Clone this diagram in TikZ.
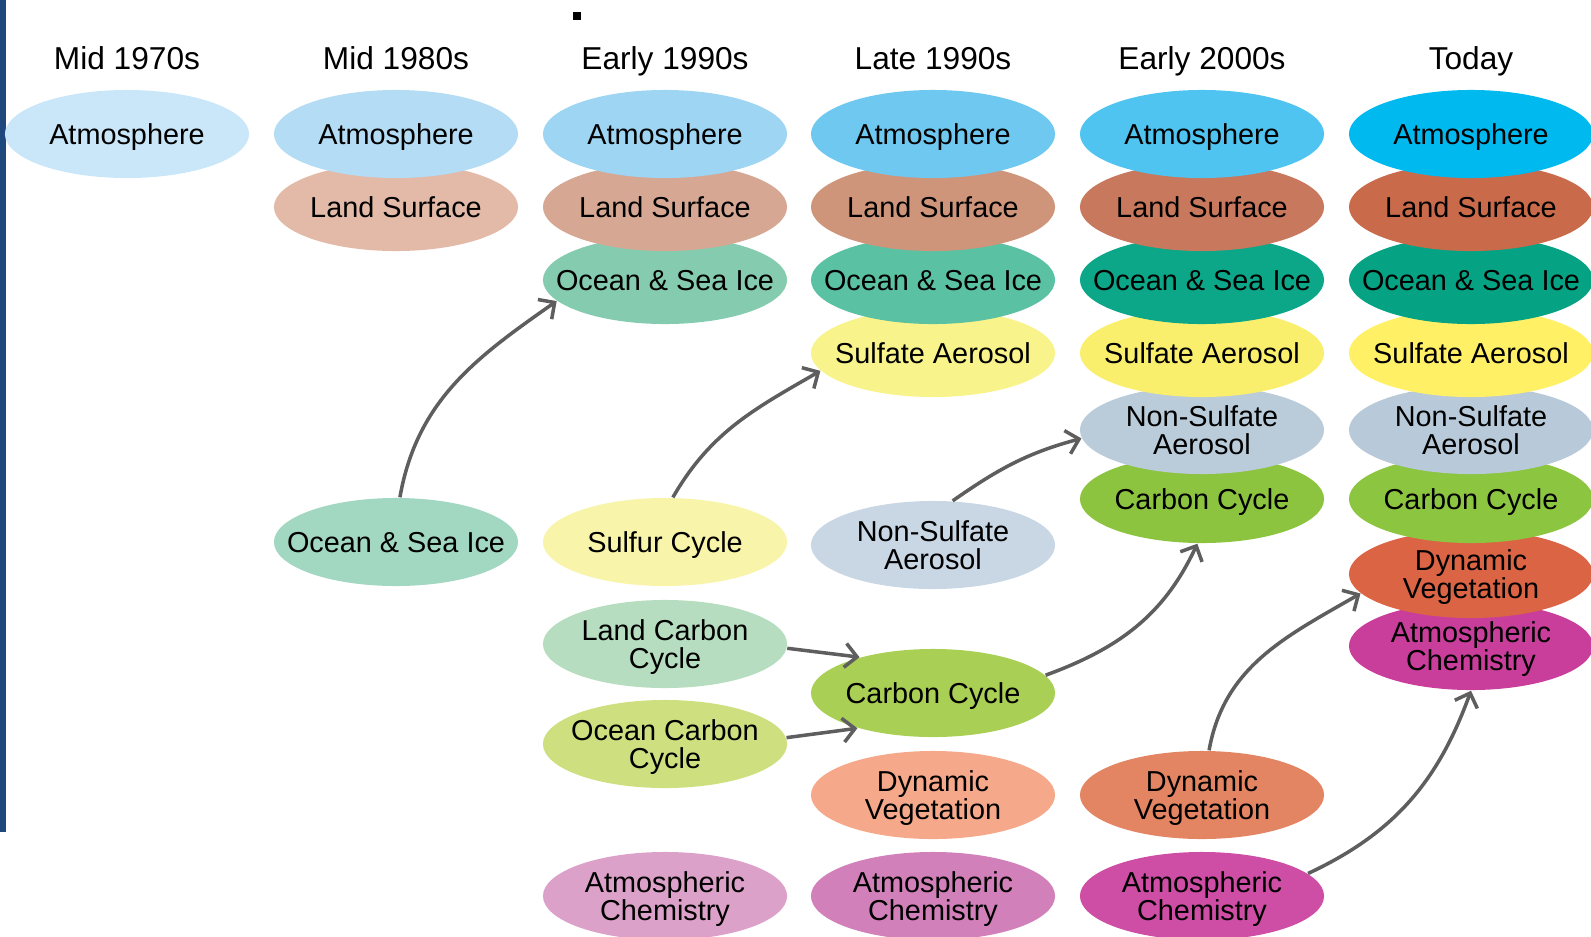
\documentclass[tikz,border=0pt]{standalone}
\usepackage{fontspec}
\setmainfont{Liberation Sans}
\usetikzlibrary{shapes.geometric,arrows.meta}
\newcommand{\nodepth}[1]{\raisebox{0pt}[\height][0pt]{#1}}
\definecolor{barblue}{HTML}{1F497D}
\definecolor{linkgray}{HTML}{5E5E5E}
% mid 1970s / mid 1980s
\definecolor{atmA}{HTML}{C9E7F8}
\definecolor{atmB}{HTML}{B4DCF4}
\definecolor{landB}{HTML}{E3BAA7}
\definecolor{oceanB}{HTML}{A2D7C1}
% early 1990s
\definecolor{atmC}{HTML}{9DD5F3}
\definecolor{landC}{HTML}{D6A894}
\definecolor{oceanC}{HTML}{85CBAF}
\definecolor{sulfurC}{HTML}{F8F4A9}
\definecolor{lcarbC}{HTML}{B6DDBF}
\definecolor{ocarbC}{HTML}{CEDF7F}
\definecolor{chemC}{HTML}{DCA1C9}
% late 1990s
\definecolor{atmD}{HTML}{6FC8EF}
\definecolor{landD}{HTML}{CF957B}
\definecolor{oceanD}{HTML}{5BC1A3}
\definecolor{sulfD}{HTML}{F8F38B}
\definecolor{nonsD}{HTML}{C9D6E4}
\definecolor{carbD}{HTML}{A9CF54}
\definecolor{vegD}{HTML}{F5A98A}
\definecolor{chemD}{HTML}{D180B9}
% early 2000s
\definecolor{atmE}{HTML}{4FC4F0}
\definecolor{landE}{HTML}{C8785D}
\definecolor{oceanE}{HTML}{0CA788}
\definecolor{sulfE}{HTML}{FAEF6C}
\definecolor{nonsE}{HTML}{BACBDA}
\definecolor{carbE}{HTML}{8CC43F}
\definecolor{vegE}{HTML}{E38563}
\definecolor{chemE}{HTML}{CE4DA5}
% today
\definecolor{atmF}{HTML}{00B9EF}
\definecolor{landF}{HTML}{C96A4B}
\definecolor{oceanF}{HTML}{05A384}
\definecolor{sulfF}{HTML}{FFF066}
\definecolor{nonsF}{HTML}{B8CAD9}
\definecolor{carbF}{HTML}{8CC540}
\definecolor{vegF}{HTML}{DA6444}
\definecolor{chemF}{HTML}{C93E9B}
\begin{document}
\begin{tikzpicture}[x=0.01cm,y=-0.01cm,
  comp/.style={ellipse, minimum width=2.44cm, minimum height=0.88cm,
    inner xsep=-0.25cm, inner ysep=0pt, font=\fontsize{8.2}{7.8}\selectfont},
  one/.style={comp, text depth=0pt},
  two/.style={comp, align=center},
  era/.style={font=\fontsize{9}{10}\selectfont, text depth=0pt},
  link/.style={draw=linkgray, line width=1pt, -{Straight Barb[length=1.2mm,width=2.4mm]}}]
\useasboundingbox (0,0) rectangle (1591,936);
\fill[barblue] (0,0) rectangle (6,832);
\fill (573,12) rectangle (581,20);
% Mid 1970s
\node[era] (t70) at (127,58) {Mid 1970s};
\node[one, fill=atmA] (atm70) at (127,134) {Atmosphere};
% Mid 1980s
\node[era] (t80) at (396,58) {Mid 1980s};
\node[one, fill=landB] (land80) at (396,207) {Land Surface};
\node[one, fill=atmB] (atm80) at (396,134) {Atmosphere};
\node[one, fill=oceanB] (ocean80) at (396,542) {Ocean \& Sea Ice};
% Early 1990s
\node[era] (t90) at (665,58) {Early 1990s};
\node[one, fill=oceanC] (ocean90) at (665,280) {Ocean \& Sea Ice};
\node[one, fill=landC] (land90) at (665,207) {Land Surface};
\node[one, fill=atmC] (atm90) at (665,134) {Atmosphere};
\node[one, fill=sulfurC] (sulfur90) at (665,542) {Sulfur Cycle};
\node[two, fill=lcarbC] (lcarb90) at (665,644) {Land Carbon\\\nodepth{Cycle}};
\node[two, fill=ocarbC] (ocarb90) at (665,744) {Ocean Carbon\\\nodepth{Cycle}};
\node[two, fill=chemC] (chem90) at (665,896) {Atmospheric\\\nodepth{Chemistry}};
% Late 1990s
\node[era] (t95) at (933,58) {Late 1990s};
\node[one, fill=sulfD] (sulf95) at (933,353) {Sulfate Aerosol};
\node[one, fill=oceanD] (ocean95) at (933,280) {Ocean \& Sea Ice};
\node[one, fill=landD] (land95) at (933,207) {Land Surface};
\node[one, fill=atmD] (atm95) at (933,134) {Atmosphere};
\node[two, fill=nonsD] (nons95) at (933,545) {Non-Sulfate\\Aerosol};
\node[one, fill=carbD] (carb95) at (933,693) {Carbon Cycle};
\node[two, fill=vegD] (veg95) at (933,795) {Dynamic\\\nodepth{Vegetation}};
\node[two, fill=chemD] (chem95) at (933,896) {Atmospheric\\\nodepth{Chemistry}};
% Early 2000s
\node[era] (t00) at (1202,58) {Early 2000s};
\node[one, fill=carbE] (carb00) at (1202,499) {Carbon Cycle};
\node[two, fill=nonsE] (nons00) at (1202,430) {Non-Sulfate\\Aerosol};
\node[one, fill=sulfE] (sulf00) at (1202,353) {Sulfate Aerosol};
\node[one, fill=oceanE] (ocean00) at (1202,280) {Ocean \& Sea Ice};
\node[one, fill=landE] (land00) at (1202,207) {Land Surface};
\node[one, fill=atmE] (atm00) at (1202,134) {Atmosphere};
\node[two, fill=vegE] (veg00) at (1202,795) {Dynamic\\\nodepth{Vegetation}};
\node[two, fill=chemE] (chem00) at (1202,896) {Atmospheric\\\nodepth{Chemistry}};
% Today
\node[era] (t10) at (1471,58) {Today};
\node[two, fill=chemF] (chem10) at (1471,646) {Atmospheric\\\nodepth{Chemistry}};
\node[two, fill=vegF] (veg10) at (1471,574) {Dynamic\\\nodepth{Vegetation}};
\node[one, fill=carbF] (carb10) at (1471,499) {Carbon Cycle};
\node[two, fill=nonsF] (nons10) at (1471,430) {Non-Sulfate\\Aerosol};
\node[one, fill=sulfF] (sulf10) at (1471,353) {Sulfate Aerosol};
\node[one, fill=oceanF] (ocean10) at (1471,280) {Ocean \& Sea Ice};
\node[one, fill=landF] (land10) at (1471,207) {Land Surface};
\node[one, fill=atmF] (atm10) at (1471,134) {Atmosphere};
% couplings
\path[link] (ocean80.85) to[out=80,in=215] (ocean90.191);
\path[link] (sulfur90.80) to[out=60,in=210] (sulf95.189);
\path[link] (nons95.66) to[out=35,in=195] (nons00.184);
\path[link] (lcarb90.358) -- (carb95.154);
\path[link] (ocarb90.3) -- (carb95.205);
\path[link] (carb95.9) to[out=20,in=245] (carb00.264);
\path[link] (veg00.81) to[out=80,in=210] (veg10.190);
\path[link] (chem00.12) to[out=25,in=250] (chem10.270);
\end{tikzpicture}
\end{document}
